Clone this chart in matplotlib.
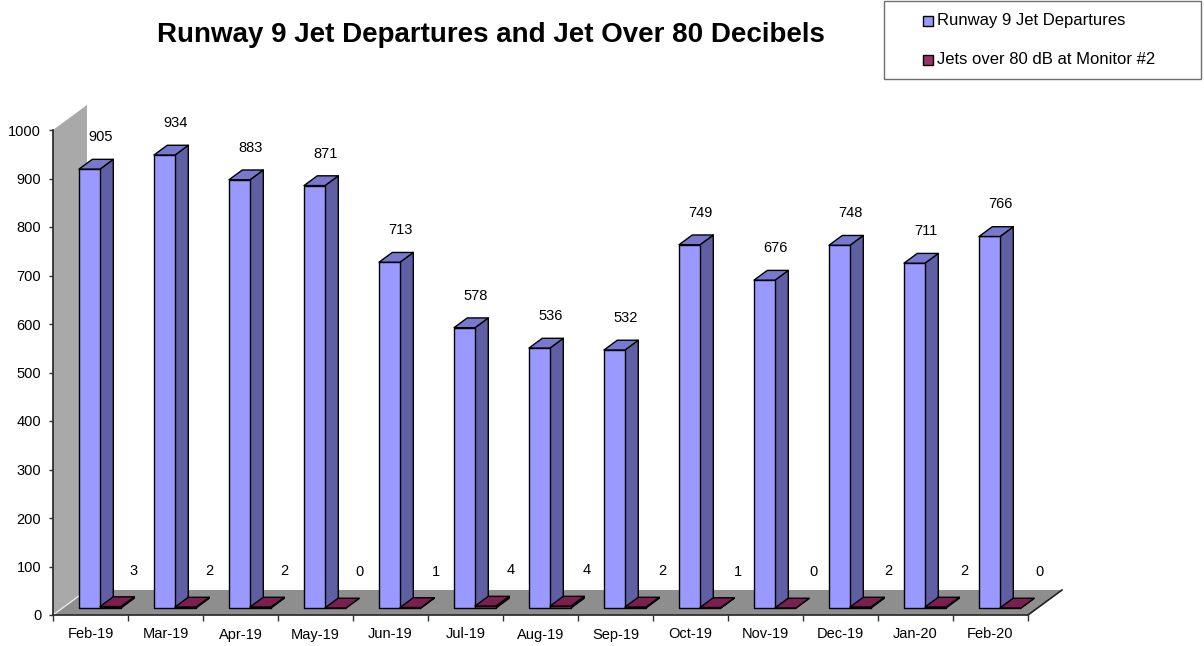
import numpy as np
import matplotlib
matplotlib.use("Agg")
import matplotlib.pyplot as plt
from matplotlib.patches import Polygon, Rectangle

plt.rcParams['font.family'] = ['Liberation Sans', 'DejaVu Sans']

# ---------------- data ----------------
months = ["Feb-19", "Mar-19", "Apr-19", "May-19", "Jun-19", "Jul-19", "Aug-19",
          "Sep-19", "Oct-19", "Nov-19", "Dec-19", "Jan-20", "Feb-20"]
departures = [905, 934, 883, 871, 713, 578, 536, 532, 749, 676, 748, 711, 766]
over80 = [3, 2, 2, 0, 1, 4, 4, 2, 1, 0, 2, 2, 0]
series_names = ["Runway 9 Jet Departures", "Jets over 80 dB at Monitor #2"]
title = "Runway 9 Jet Departures and Jet Over 80 Decibels"
yticks = list(range(0, 1001, 100))

# ---------------- style ----------------
W, H = 1204, 646
BLUE = dict(front="#9999FF", side="#5F5FA3", top="#7878CF")
MAROON = dict(front="#993366", side="#5E1F40", top="#7A1F50")
FLOOR = "#8E8E8E"
WALL = "#A9A9A9"
AX_COL = "#303030"

fig = plt.figure(figsize=(W / 100, H / 100), dpi=100)
ax = fig.add_axes([53 / W, 31 / H, 975 / W, 485 / H])
n = len(months)
ax.set_xlim(-0.5, n - 0.5)
ax.set_ylim(0, 1000)

px_per_cat = 975 / n
px_per_val = 485 / 1000
DX = 34 / px_per_cat       # full depth, category units
DY = 25 / px_per_val       # full depth, value units
F0, F1 = 0.28, 0.67        # bar depth range (fractions of full depth)
BW = 0.28                  # bar width (category units)

# floor and side wall
floor = Polygon([(-0.5, 0), (n - 0.5, 0), (n - 0.5 + DX, DY), (-0.5 + DX, DY)],
                closed=True, facecolor=FLOOR, edgecolor="none", zorder=1, clip_on=False)
ax.add_patch(floor)
wall = Polygon([(-0.5, 0), (-0.5, 1000), (-0.5 + DX, 1000 + DY), (-0.5 + DX, DY)],
               closed=True, facecolor=WALL, edgecolor="none", zorder=1, clip_on=False)
ax.add_patch(wall)
ax.plot([n - 0.5, n - 0.5 + DX], [0, DY], color="#202020", lw=1.2, zorder=2, clip_on=False)
ax.plot([-0.5, -0.5 + DX], [0, DY], color="#E8E8E8", lw=1.0, zorder=1.5, clip_on=False)


def box(x0, x1, v, colors):
    ox0, oy0 = F0 * DX, F0 * DY
    ox1, oy1 = F1 * DX, F1 * DY
    front = [(x0 + ox0, oy0), (x1 + ox0, oy0), (x1 + ox0, v + oy0), (x0 + ox0, v + oy0)]
    side = [(x1 + ox0, oy0), (x1 + ox1, oy1), (x1 + ox1, v + oy1), (x1 + ox0, v + oy0)]
    top = [(x0 + ox0, v + oy0), (x1 + ox0, v + oy0), (x1 + ox1, v + oy1), (x0 + ox1, v + oy1)]
    for pts, c in ((side, colors["side"]), (front, colors["front"]), (top, colors["top"])):
        ax.add_patch(Polygon(pts, closed=True, facecolor=c, edgecolor="black",
                             lw=1.0, joinstyle="round", zorder=3, clip_on=False))


for i in range(n):
    box(i - BW, i, departures[i], BLUE)
    box(i, i + BW, over80[i], MAROON)
    ax.annotate(str(departures[i]), xy=(i, departures[i]), xytext=(10, 39),
                textcoords="offset pixels", ha="center", va="center",
                fontsize=10.5, zorder=5, annotation_clip=False)
    ax.annotate(str(over80[i]), xy=(i, over80[i]), xytext=(43 + 0.5 * i, 43),
                textcoords="offset pixels", ha="center", va="center",
                fontsize=10.5, zorder=5, annotation_clip=False)

# axes
for s in ("top", "right"):
    ax.spines[s].set_visible(False)
for s in ("left", "bottom"):
    ax.spines[s].set_color(AX_COL)
    ax.spines[s].set_linewidth(1.3)
    ax.spines[s].set_zorder(2.5)

ax.set_yticks(yticks)
ax.set_yticklabels([str(t) for t in yticks], fontsize=10.5)
ax.tick_params(axis="y", length=3, width=1, color=AX_COL, pad=5.5)

ax.set_xticks(np.arange(-0.5, n, 1.0))
ax.set_xticklabels([""] * (n + 1))
ax.set_xticks(np.arange(n), minor=True)
ax.set_xticklabels(months, minor=True, fontsize=10.5)
ax.tick_params(axis="x", which="major", length=4, width=1, color=AX_COL)
ax.tick_params(axis="x", which="minor", length=0, pad=9)
ax.patch.set_visible(False)

# title
fig.text(491 / W, 1 - 35 / H, title, ha="center", va="center",
         fontsize=20, fontweight="bold")

# legend (drawn as a framed box)
fig.add_artist(Rectangle((884 / W, 1 - 79 / H), 317 / W, 78 / H, transform=fig.transFigure,
                         fill=False, edgecolor="#707070", lw=1.0))
for k, (name, col) in enumerate(zip(series_names, [BLUE["front"], MAROON["front"]])):
    yc = [21, 60][k]
    fig.add_artist(Rectangle((923 / W, 1 - (yc + 5) / H), 10 / W, 10 / H,
                             transform=fig.transFigure, facecolor=col,
                             edgecolor="black", lw=1.0))
    fig.text(937 / W, 1 - yc / H, name, ha="left", va="center", fontsize=12)

fig.savefig("out.png", dpi=100)
